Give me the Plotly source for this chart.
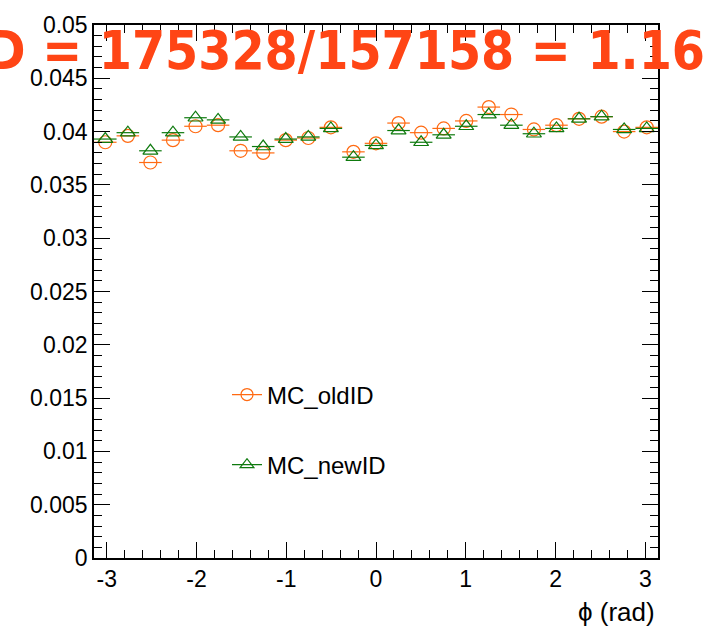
import plotly.graph_objects as go

# ---- data ----
bin_centers = [-3.0159, -2.7646, -2.5133, -2.2619, -2.0106, -1.7593, -1.5080, -1.2566,
               -1.0053, -0.7540, -0.5027, -0.2513, 0.0, 0.2513, 0.5027, 0.7540,
               1.0053, 1.2566, 1.5080, 1.7593, 2.0106, 2.2619, 2.5133, 2.7646, 3.0159]
bin_half_width = [0.1257] * 25
mc_old = [0.0390, 0.0396, 0.0371, 0.0392, 0.0405, 0.0406, 0.0382, 0.0380, 0.0392, 0.0394,
          0.0404, 0.0381, 0.0389, 0.0408, 0.0399, 0.0403, 0.0410, 0.0423, 0.0416, 0.0402,
          0.0406, 0.0412, 0.0414, 0.0400, 0.0404]
mc_new = [0.0393, 0.0399, 0.0382, 0.0399, 0.0413, 0.0411, 0.0395, 0.0386, 0.0393, 0.0395,
          0.0403, 0.0376, 0.0387, 0.0401, 0.0390, 0.0397, 0.0405, 0.0416, 0.0406, 0.0398,
          0.0403, 0.0412, 0.0414, 0.0402, 0.0403]
x_tickvals = [-3, -2, -1, 0, 1, 2, 3]
x_ticktext = ["-3", "-2", "-1", "0", "1", "2", "3"]
y_tickvals = [0, 0.005, 0.01, 0.015, 0.02, 0.025, 0.03, 0.035, 0.04, 0.045, 0.05]
y_ticktext = ["0", "0.005", "0.01", "0.015", "0.02", "0.025", "0.03", "0.035", "0.04", "0.045", "0.05"]
title_text = "D = 175328/157158 = 1.16"

ORANGE = "#FF6A12"
GREEN = "#0E7A0E"
W, H = 725, 631
ML, MR, MT, MB = 94, 67, 18, 73
PW, PH = W - ML - MR, H - MT - MB

def px_x(p):
    return (p - ML) / PW

def px_y(p):
    return (H - MB - p) / PH

fig = go.Figure()
fig.add_trace(go.Scatter(
    x=bin_centers, y=mc_old, mode="markers", showlegend=False,
    marker=dict(symbol="circle-open", size=13, color=ORANGE, line=dict(width=1.2, color=ORANGE)),
    error_x=dict(type="data", array=bin_half_width, color=ORANGE, thickness=1.2, width=0),
))
fig.add_trace(go.Scatter(
    x=bin_centers, y=mc_new, mode="markers", showlegend=False,
    marker=dict(symbol="triangle-up-open", size=13, color=GREEN, line=dict(width=1.2, color=GREEN)),
    error_x=dict(type="data", array=bin_half_width, color=GREEN, thickness=1.2, width=0),
))
# legend entries
fig.add_trace(go.Scatter(
    x=[None], y=[None], mode="lines+markers", name="MC_oldID", legend="legend",
    line=dict(color=ORANGE, width=1.2),
    marker=dict(symbol="circle-open", size=12, color=ORANGE, line=dict(width=1.2, color=ORANGE)),
))
fig.add_trace(go.Scatter(
    x=[None], y=[None], mode="lines+markers", name="MC_newID", legend="legend2",
    line=dict(color=GREEN, width=1.2),
    marker=dict(symbol="triangle-up-open", size=12, color=GREEN, line=dict(width=1.2, color=GREEN)),
))

axis_font = dict(family="Liberation Sans, Arial, Helvetica, sans-serif", size=23, color="black")
leg_font = dict(family="Liberation Sans, Arial, sans-serif", size=24, color="black")

fig.update_layout(
    width=W, height=H,
    margin=dict(l=ML, r=MR, t=MT, b=MB, pad=0),
    paper_bgcolor="white", plot_bgcolor="white",
    xaxis=dict(
        range=[-3.14159, 3.14159], showgrid=False, zeroline=False,
        showline=True, linecolor="black", linewidth=1.5, mirror="allticks",
        ticks="inside", ticklen=16, tickwidth=1, tickcolor="black",
        tickmode="array", tickvals=x_tickvals, ticktext=x_ticktext,
        tickfont=axis_font,
        minor=dict(ticks="inside", ticklen=8, tick0=0, dtick=0.2, tickcolor="black", showgrid=False),
    ),
    yaxis=dict(
        range=[0, 0.05], showgrid=False, zeroline=False,
        showline=True, linecolor="black", linewidth=1.5, mirror="allticks",
        ticks="inside", ticklen=16, tickwidth=1, tickcolor="black",
        tickmode="array", tickvals=y_tickvals, ticktext=y_ticktext,
        tickfont=axis_font,
        minor=dict(ticks="inside", ticklen=8, tick0=0, dtick=0.001, tickcolor="black", showgrid=False),
    ),
    legend=dict(
        x=px_x(227), y=px_y(370), xanchor="left", yanchor="top",
        bgcolor="rgba(0,0,0,0)", font=leg_font, itemwidth=30,
    ),
    legend2=dict(
        x=px_x(227), y=px_y(441), xanchor="left", yanchor="top",
        bgcolor="rgba(0,0,0,0)", font=leg_font, itemwidth=30,
    ),
    annotations=[
        dict(text=title_text, xref="paper", yref="paper", x=px_x(-16), y=px_y(44),
             xanchor="left", yanchor="middle", showarrow=False,
             font=dict(family="DejaVu Sans Condensed, DejaVu Sans, sans-serif", size=53,
                       color="#FF4515", weight="bold")),
        dict(text="ϕ (rad)", xref="paper", yref="paper", x=px_x(657), y=px_y(613),
             xanchor="right", yanchor="middle", showarrow=False,
             font=dict(family="Liberation Sans, Arial, sans-serif", size=26, color="black")),
    ],
)

fig.write_html("out.html")
